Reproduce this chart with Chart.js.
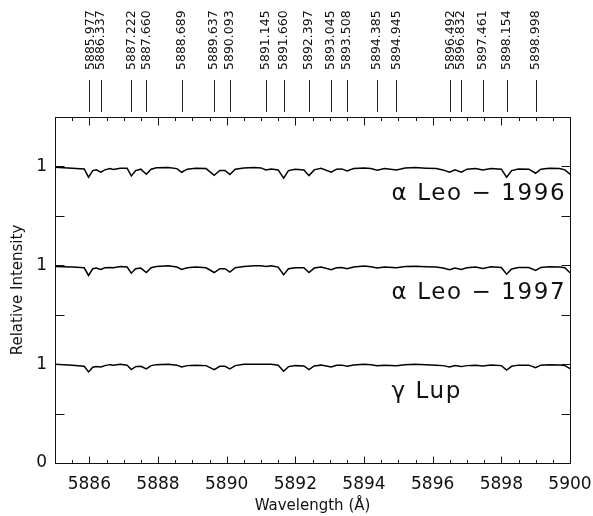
<!DOCTYPE html>
<html><head><meta charset="utf-8">
<script src="https://cdn.jsdelivr.net/npm/chart.js@4"></script>
<style>html,body{margin:0;padding:0;background:#fff}#wrap{width:593px;height:516px}</style>
</head><body><div id="wrap"><canvas id="c" width="593" height="516"></canvas></div>
<script>
// ---- data ----
const wavelengths = [5885.0, 5885.5, 5885.85, 5885.977, 5886.1, 5886.2, 5886.337, 5886.45, 5886.6, 5886.7, 5886.9, 5887.1, 5887.222, 5887.35, 5887.5, 5887.66, 5887.8, 5887.95, 5888.3, 5888.55, 5888.689, 5888.85, 5889.1, 5889.4, 5889.637, 5889.8, 5889.95, 5890.093, 5890.25, 5890.5, 5890.8, 5891.0, 5891.145, 5891.3, 5891.5, 5891.66, 5891.8, 5892.0, 5892.25, 5892.397, 5892.55, 5892.75, 5893.045, 5893.2, 5893.35, 5893.508, 5893.7, 5894.0, 5894.2, 5894.385, 5894.6, 5894.945, 5895.2, 5895.5, 5895.8, 5896.1, 5896.3, 5896.492, 5896.65, 5896.832, 5897.0, 5897.25, 5897.461, 5897.7, 5898.0, 5898.154, 5898.3, 5898.5, 5898.8, 5898.998, 5899.15, 5899.4, 5899.7, 5899.85, 5900.0];
const alphaLeo1996 = [0.992, 0.982, 0.975, 0.891, 0.958, 0.965, 0.941, 0.965, 0.978, 0.968, 0.982, 0.982, 0.904, 0.958, 0.972, 0.921, 0.972, 0.986, 0.990, 0.978, 0.941, 0.972, 0.982, 0.978, 0.911, 0.960, 0.960, 0.918, 0.972, 0.985, 0.990, 0.985, 0.965, 0.975, 0.965, 0.881, 0.958, 0.972, 0.965, 0.907, 0.965, 0.982, 0.941, 0.972, 0.975, 0.955, 0.978, 0.985, 0.978, 0.962, 0.978, 0.965, 0.985, 0.988, 0.982, 0.978, 0.965, 0.941, 0.965, 0.941, 0.972, 0.978, 0.965, 0.978, 0.972, 0.891, 0.958, 0.975, 0.972, 0.931, 0.972, 0.982, 0.978, 0.965, 0.921];
const alphaLeo1997 = [0.988, 0.982, 0.975, 0.897, 0.965, 0.972, 0.958, 0.975, 0.978, 0.975, 0.988, 0.982, 0.920, 0.965, 0.972, 0.927, 0.975, 0.988, 0.995, 0.982, 0.958, 0.975, 0.982, 0.975, 0.927, 0.965, 0.965, 0.931, 0.975, 0.988, 0.995, 0.995, 0.988, 0.995, 0.982, 0.904, 0.965, 0.975, 0.975, 0.927, 0.972, 0.982, 0.955, 0.975, 0.978, 0.965, 0.982, 0.992, 0.985, 0.972, 0.982, 0.975, 0.988, 0.990, 0.985, 0.982, 0.972, 0.955, 0.972, 0.958, 0.975, 0.982, 0.968, 0.985, 0.978, 0.910, 0.962, 0.978, 0.978, 0.948, 0.978, 0.985, 0.982, 0.975, 0.925];
const gammaLup = [0.998, 0.988, 0.978, 0.921, 0.968, 0.975, 0.971, 0.985, 0.995, 0.990, 0.998, 0.990, 0.945, 0.975, 0.978, 0.952, 0.985, 0.995, 1.000, 0.990, 0.971, 0.985, 0.990, 0.985, 0.945, 0.978, 0.978, 0.952, 0.985, 1.000, 1.000, 1.000, 0.998, 0.998, 0.990, 0.928, 0.975, 0.985, 0.982, 0.945, 0.982, 0.990, 0.972, 0.988, 0.990, 0.980, 0.992, 0.998, 0.995, 0.985, 0.990, 0.985, 0.995, 0.998, 0.995, 0.990, 0.985, 0.972, 0.985, 0.975, 0.985, 0.990, 0.982, 0.992, 0.985, 0.940, 0.978, 0.990, 0.990, 0.965, 0.990, 0.995, 0.992, 0.985, 0.955];
const seriesNames = ['α Leo − 1996', 'α Leo − 1997', 'γ Lup'];
const seriesOffsets = [2, 1, 0];
const lineWavelengths = [5885.977, 5886.337, 5887.222, 5887.660, 5888.689, 5889.637, 5890.093, 5891.145, 5891.660, 5892.397, 5893.045, 5893.508, 5894.385, 5894.945, 5896.492, 5896.832, 5897.461, 5898.154, 5898.998];
const xTickValues = [5886, 5888, 5890, 5892, 5894, 5896, 5898, 5900];
const xTickLabels = ['5886', '5888', '5890', '5892', '5894', '5896', '5898', '5900'];
const yTickValues = [0, 1, 2, 3];
const yTickLabels = ['0', '1', '1', '1'];

// ---- chart ----
const FONT = 'DejaVu Sans';
const seriesData = [alphaLeo1996, alphaLeo1997, gammaLup];
const datasets = seriesData.map((vals, s) => ({
  label: seriesNames[s],
  data: wavelengths.map((w, i) => ({ x: w, y: vals[i] + seriesOffsets[s] })),
  borderColor: '#000', borderWidth: 1.5, pointRadius: 0, tension: 0, fill: false
}));

const marks = {
  id: 'marks',
  afterDatasetsDraw(chart) {
    const { ctx, chartArea: a, scales: { x, y } } = chart;
    ctx.save();
    ctx.strokeStyle = '#111'; ctx.lineWidth = 1;
    const L = Math.round(a.left) + 0.5, R = Math.round(a.right) + 0.5,
          T = Math.round(a.top) + 0.5, B = Math.round(a.bottom) + 0.5;
    ctx.strokeRect(L, T, R - L, B - T);
    ctx.beginPath();
    for (let k = 0; k <= 30; k++) {
      const v = 5885 + k * 0.5;
      const px = Math.round(x.getPixelForValue(v)) + 0.5;
      const major = xTickValues.includes(v);
      const lb = major ? 7 : 3.5, lt = major ? 8 : 3.5;
      ctx.moveTo(px, B); ctx.lineTo(px, B - lb);
      ctx.moveTo(px, T); ctx.lineTo(px, T + lt);
    }
    for (let k = 1; k <= 7; k++) {
      const py = Math.round(y.getPixelForValue(k * 0.5)) + 0.5;
      ctx.moveTo(L, py); ctx.lineTo(L + 9, py);
      ctx.moveTo(R, py); ctx.lineTo(R - 9, py);
    }
    ctx.stroke();
    // line markers
    ctx.strokeStyle = '#222';
    ctx.beginPath();
    const pxs = lineWavelengths.map(w => x.getPixelForValue(w));
    pxs.forEach(p => { const q = Math.round(p) + 0.5; ctx.moveTo(q, a.top - 37); ctx.lineTo(q, a.top - 5); });
    ctx.stroke();
    ctx.fillStyle = '#111';
    ctx.font = '12.5px "' + FONT + '"';
    ctx.textAlign = 'left'; ctx.textBaseline = 'middle';
    pxs.forEach((p, i) => {
      let lx = p;
      if (i < pxs.length - 1 && pxs[i + 1] - p < 13) lx = Math.max(p, pxs[i + 1] - 10);
      ctx.save();
      ctx.translate(lx, a.top - 47);
      ctx.rotate(-Math.PI / 2);
      ctx.fillText(lineWavelengths[i].toFixed(3), 0, 0);
      ctx.restore();
    });
    // series labels
    ctx.font = '23px "' + FONT + '"';
    if ('letterSpacing' in ctx) ctx.letterSpacing = '1.6px';
    ctx.textBaseline = 'middle';
    seriesNames.forEach((n, s) => {
      ctx.fillText(n, x.getPixelForValue(5894.8), y.getPixelForValue(seriesOffsets[s] + 0.72));
    });
    ctx.restore();
  }
};

new Chart(document.getElementById('c'), {
  type: 'line',
  data: { datasets },
  options: {
    responsive: false, animation: false, devicePixelRatio: 1,
    layout: { padding: { top: 117, right: 23, left: 0, bottom: 0 } },
    plugins: { legend: { display: false }, tooltip: { enabled: false } },
    scales: {
      x: {
        type: 'linear', min: 5885, max: 5900,
        afterBuildTicks: s => { s.ticks = xTickValues.map(v => ({ value: v })); },
        afterFit: s => { s.height = 53; s.paddingLeft = 0; s.paddingRight = 0; },
        ticks: { autoSkip: false, maxRotation: 0, padding: 11, color: '#111',
                 font: { family: FONT, size: 17 },
                 callback: (v) => { const i = xTickValues.indexOf(v); return i >= 0 ? xTickLabels[i] : ''; } },
        grid: { display: false, drawTicks: false }, border: { display: false },
        title: { display: true, text: 'Wavelength (Å)', color: '#111',
                 font: { family: FONT, size: 15 }, padding: { top: 0, bottom: 1 } }
      },
      y: {
        type: 'linear', min: 0, max: 3.5,
        afterBuildTicks: s => { s.ticks = yTickValues.map(v => ({ value: v })); },
        afterFit: s => { s.width = 55; s.paddingTop = 0; s.paddingBottom = 0; },
        ticks: { padding: 8, color: '#111', font: { family: FONT, size: 17 },
                 callback: (v) => { const i = yTickValues.indexOf(v); return i >= 0 ? yTickLabels[i] : ''; } },
        grid: { display: false, drawTicks: false }, border: { display: false },
        title: { display: true, text: 'Relative Intensity', color: '#111',
                 font: { family: FONT, size: 15 }, padding: { top: 9, bottom: 0 } }
      }
    }
  },
  plugins: [marks]
});
</script></body></html>
